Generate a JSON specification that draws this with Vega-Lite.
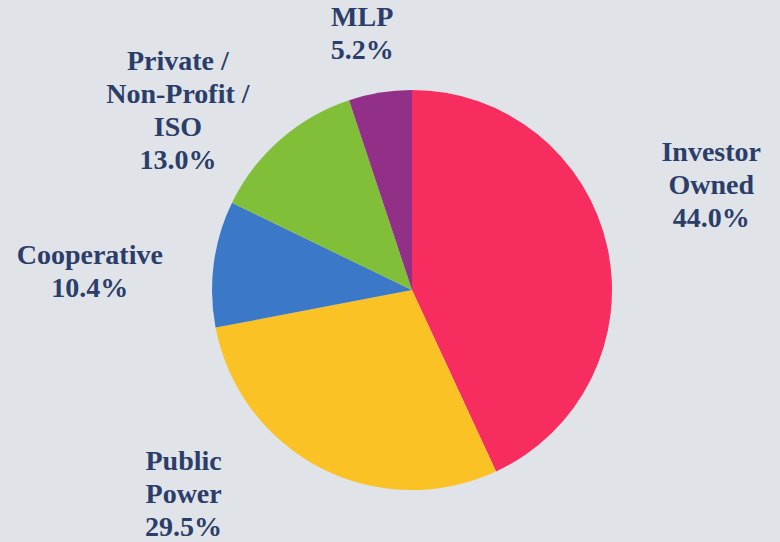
{
  "$schema": "https://vega.github.io/schema/vega-lite/v6.json",
  "autosize": {"type": "none"},
  "padding": {"left": 44, "top": 38, "right": 0, "bottom": 0},
  "width": 736,
  "height": 504,
  "background": "#E0E3E8",
  "config": {"view": {"stroke": null}},
  "data": {
    "values": [
      {"category": "Investor Owned", "value": 44.0, "rank": 1, "label": "Investor\nOwned\n44.0%"},
      {"category": "Public Power", "value": 29.5, "rank": 2, "label": "Public\nPower\n29.5%"},
      {"category": "Cooperative", "value": 10.4, "rank": 3, "label": "Cooperative\n10.4%"},
      {"category": "Private / Non-Profit / ISO", "value": 13.0, "rank": 4, "label": "Private /\nNon-Profit /\nISO\n13.0%"},
      {"category": "MLP", "value": 5.2, "rank": 5, "label": "MLP\n5.2%"}
    ]
  },
  "encoding": {
    "theta": {"field": "value", "type": "quantitative", "stack": true},
    "order": {"field": "rank", "type": "quantitative"}
  },
  "layer": [
    {
      "mark": {"type": "arc", "outerRadius": 200},
      "encoding": {
        "color": {
          "field": "category",
          "type": "nominal",
          "legend": null,
          "scale": {
            "domain": ["Investor Owned", "Public Power", "Cooperative", "Private / Non-Profit / ISO", "MLP"],
            "range": ["#F72C5F", "#FBC226", "#3B79C8", "#80BF37", "#923088"]
          }
        }
      }
    },
    {
      "mark": {
        "type": "text",
        "font": "'Liberation Serif', 'DejaVu Serif', serif",
        "fontWeight": "bold",
        "fontSize": 28,
        "lineHeight": 33,
        "lineBreak": "\n",
        "fill": "#2B3D69",
        "align": "center",
        "baseline": "middle",
        "radius": {"expr": "datum.category === 'Investor Owned' ? 329 : datum.category === 'Public Power' ? 286 : datum.category === 'Cooperative' ? 324 : datum.category === 'MLP' ? 277 : 327"},
        "thetaOffset": {"expr": "datum.category === 'Investor Owned' ? -0.212 : datum.category === 'Public Power' ? 0.451 : datum.category === 'Cooperative' ? -0.026 : datum.category === 'MLP' ? -0.021 : -0.078"}
      },
      "encoding": {
        "text": {"field": "label", "type": "nominal"}
      }
    }
  ]
}
